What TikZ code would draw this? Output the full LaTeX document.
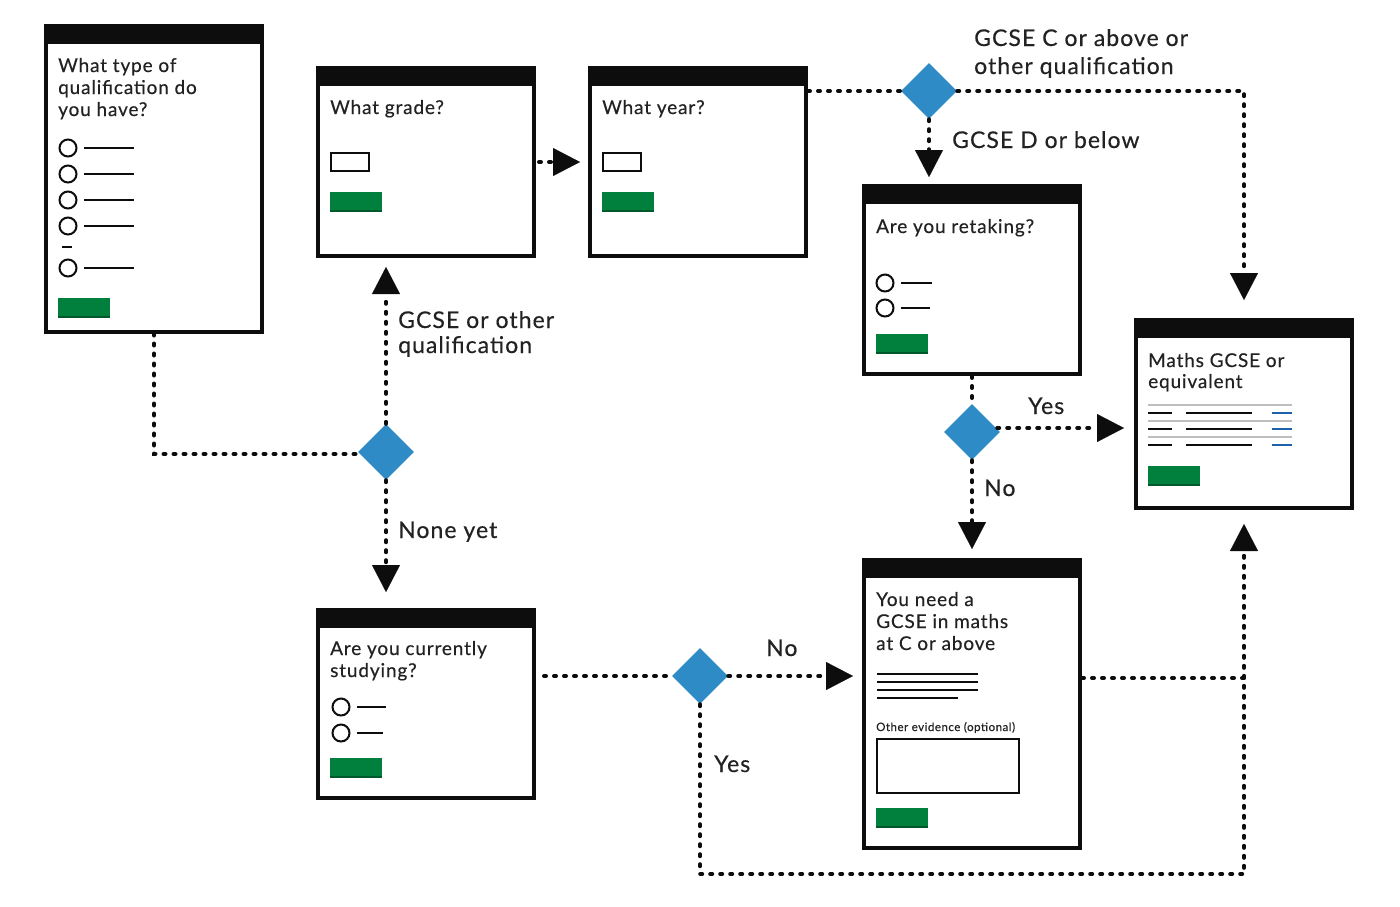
\documentclass[tikz,border=0pt]{standalone}
\usepackage{fontspec}
\setmainfont{Lato}[LetterSpace=4.5,FakeBold=0.35,
  UprightFeatures={FakeBold=0.35}]
\usetikzlibrary{arrows.meta,shapes.geometric,calc}
\definecolor{ink}{HTML}{0D0D0D}
\definecolor{txt}{HTML}{222222}
\definecolor{dblue}{HTML}{2E8BC6}
\definecolor{gbtn}{HTML}{00803C}
\definecolor{gshadow}{HTML}{00592A}
\definecolor{rowgray}{HTML}{BEBEBE}
\definecolor{linkblue}{HTML}{1D62A8}
\newcommand\gobutton[2]{\fill[gbtn] (#1,#2) rectangle ++(52,20); \fill[gshadow] (#1,#2+18) rectangle ++(52,2);}
\newcommand\radiobtn[3]{\draw[radio] (#1,#2) circle (8.5); \draw[stub] (#1+16,#2) -- (#1+#3,#2);}
\begin{document}
\begin{tikzpicture}[x=1pt,y=-1pt,
  screen/.style={draw=ink,line width=4pt,fill=white,minimum width=216pt,inner sep=0pt},
  decide/.style={diamond,fill=dblue,minimum width=56pt,minimum height=56pt,inner sep=0pt},
  conn/.style={draw=ink,line width=4pt,line cap=round,dash pattern=on 2pt off 8pt},
  tip/.style={-{Triangle[length=27pt,width=28pt,line width=0.1pt]}},
  lbl/.style={anchor=base west,inner sep=0pt,text=txt,font=\fontsize{23}{27}\selectfont},
  ttl/.style={anchor=base west,inner sep=0pt,text=txt,font=\fontsize{19}{22}\selectfont},
  small/.style={anchor=base west,inner sep=0pt,text=txt,font=\fontsize{11.5}{14}\selectfont},
  radio/.style={draw=ink,line width=2pt},
  stub/.style={draw=ink,line width=2.5pt},
  field/.style={draw=ink,line width=2pt},
  bar/.style={fill=ink}]
\useasboundingbox[fill=white] (0,0) rectangle (1400,906);

% screens
\node[screen,minimum height=306pt] (A) at (154,178.5) {};
\node[screen,minimum height=188pt] (B) at (426,162) {};
\node[screen,minimum height=188pt] (C) at (698,162) {};
\node[screen,minimum height=188pt] (D) at (972,280) {};
\node[screen,minimum height=188pt] (E) at (1244,414) {};
\node[screen,minimum height=288pt] (F) at (972,704) {};
\node[screen,minimum height=188pt] (G) at (426,704) {};
\foreach \s in {A,B,C,D,E,F,G}{\fill[bar] (\s.north west) rectangle ($(\s.north east)+(0,20)$);}

% decisions
\node[decide] (d1) at (386,452) {};
\node[decide] (d2) at (929,91) {};
\node[decide] (d3) at (972,432) {};
\node[decide] (d4) at (700,676) {};

% connectors
\draw[conn] (A.south) |- ($(d1.west)+(0,2)$);
\draw[conn,tip,shorten >=9pt] (d1.north) -- (d1.north |- B.south);
\draw[conn,tip,shorten >=16pt] (d1.south) -- (d1.south |- G.north);
\draw[conn,tip,shorten <=3pt,shorten >=8pt] (B.east) -- (C.west);
\draw[conn] (C.east |- d2) -- (d2.west);
\draw[conn,tip,shorten >=18pt] (d2.east) -| (E.north);
\draw[conn,tip,shorten >=7pt] (d2.south) -- (d2.south |- D.north);
\draw[conn] (D.south) -- (d3.north);
\draw[conn,tip,shorten >=10pt] ($(d3.east)+(-3,-4)$) -- ($(d3.east -| E.west)+(0,-4)$);
\draw[conn,tip,shorten >=9pt] (d3.south) -- (F.north);
\draw[conn,shorten <=8pt] (G.east |- d4) -- (d4.west);
\draw[conn,tip,shorten >=9pt] (d4.east) -- (d4.east -| F.west);
\coordinate (loop) at (1244,874);
\draw[conn,tip,shorten >=14pt] (d4.south) |- (loop) -- (E.south);
\draw[conn] ($(F.east |- d4)+(0,2)$) -- ($(loop |- d4)+(0,2)$);

% labels
\node[lbl] (l1) at (974,46) {GCSE C or above or};
\node[lbl] (l2) at (974,74) {other qualification};
\node[lbl] (l3) at (952,148) {GCSE D or below};
\node[lbl] (l4) at (398,328) {GCSE or other};
\node[lbl] (l5) at (398,353) {qualification};
\node[lbl] (l6) at (398,538) {None yet};
\node[lbl] (l7) at (1028,414) {Yes};
\node[lbl] (l8) at (984,496) {No};
\node[lbl] (l9) at (766,656) {No};
\node[lbl] (l10) at (714,772) {Yes};

% screen A content
\node[ttl] (tA1) at (58,72) {What type of};
\node[ttl] (tA2) at (58,94) {qualification do};
\node[ttl] (tA3) at (58,116) {you have?};
\foreach \y in {148,174,200,226,268}{\radiobtn{68}{\y}{66}}
\draw[stub] (62,247) -- (72,247);
\gobutton{58}{298}

% screen B content
\node[ttl] (tB) at (330,114) {What grade?};
\draw[field] (331,153) rectangle (369,171);
\gobutton{330}{192}

% screen C content
\node[ttl] (tC) at (602,114) {What year?};
\draw[field] (603,153) rectangle (641,171);
\gobutton{602}{192}

% screen D content
\node[ttl] (tD) at (876,233) {Are you retaking?};
\radiobtn{885}{283}{47}
\radiobtn{885}{308}{45}
\gobutton{876}{334}

% screen E content
\node[ttl] (tE1) at (1148,367) {Maths GCSE or};
\node[ttl] (tE2) at (1148,388) {equivalent};
\foreach \y in {405,421,437}{\draw[rowgray,line width=2pt] (1148,\y) -- (1292,\y);}
\foreach \y in {413,429,445}{
  \draw[ink,line width=2pt] (1148,\y) -- (1172,\y);
  \draw[ink,line width=2pt] (1186,\y) -- (1252,\y);
  \draw[linkblue,line width=2pt] (1272,\y) -- (1292,\y);}
\gobutton{1148}{466}

% screen F content
\node[ttl] (tF1) at (876,606) {You need a};
\node[ttl] (tF2) at (876,628) {GCSE in maths};
\node[ttl] (tF3) at (876,650) {at C or above};
\foreach \y in {674,682,690}{\draw[ink,line width=2.2pt] (877,\y) -- (978,\y);}
\draw[ink,line width=2.2pt] (877,698) -- (958,698);
\node[small] (tF4) at (876,731) {Other evidence (optional)};
\draw[ink,line width=2.5pt] (877,739) rectangle (1019,793);
\gobutton{876}{808}

% screen G content
\node[ttl] (tG1) at (330,655) {Are you currently};
\node[ttl] (tG2) at (330,677) {studying?};
\radiobtn{341}{707}{45}
\radiobtn{341}{733}{42}
\gobutton{330}{758}
\end{tikzpicture}
\end{document}
